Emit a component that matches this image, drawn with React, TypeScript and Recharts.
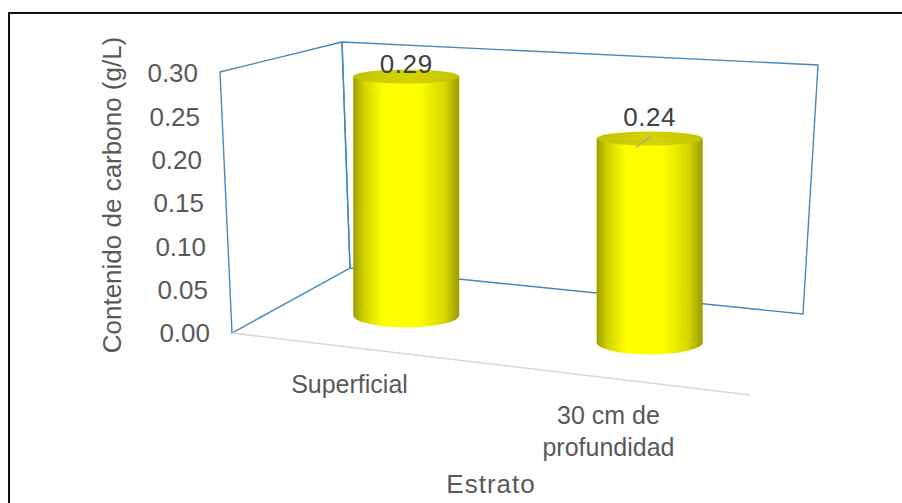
import React from 'react';
import { BarChart, Bar, XAxis, YAxis, Customized } from 'recharts';

const categories = ['Superficial', '30 cm de profundidad'];
const carbono = [0.29, 0.24];
const yTicks = [0, 0.05, 0.1, 0.15, 0.2, 0.25, 0.3];

const data = categories.map((estrato, i) => ({ estrato, carbono: carbono[i] }));

const W = 902;
const H = 503;
const PLOT_LEFT = 232;
const PLOT_RIGHT = 750;
const PLOT_TOP = 73;
const PLOT_BOTTOM = 333;
const FONT = '"Liberation Sans", Arial, sans-serif';
const TEXT = '#595959';
const WALL = '#4489bf';

// corners of the 3D box: floor (front/back) and top of the walls
const FL = { x: 232, y: 333 };
const FR = { x: 750, y: 395 };
const BL = { x: 350, y: 268 };
const BR = { x: 803, y: 314 };
const FLT = { x: 220, y: 72 };
const BLT = { x: 342, y: 42 };
const BRT = { x: 818, y: 65 };
const FRONT_RIGHT_H = 270;
const DEPTH = 0.48;

const lerp = (a: number, b: number, t: number) => a + (b - a) * t;
const lerpPt = (a: { x: number; y: number }, b: { x: number; y: number }, t: number) => ({
  x: lerp(a.x, b.x, t),
  y: lerp(a.y, b.y, t),
});

const floorAt = (u: number, z: number) => lerpPt(lerpPt(FL, FR, u), lerpPt(BL, BR, u), z);

// how much a vertical unit shrinks when moved back into the box
const depthScale = (u: number, z: number) => {
  const frontH = lerp(FL.y - FLT.y, FRONT_RIGHT_H, u);
  const backH = lerp(BL.y - BLT.y, BR.y - BRT.y, u);
  return lerp(frontH, backH, z) / (FL.y - FLT.y);
};

const LABEL_LIFT = [3, 13];

function Walls() {
  return (
    <g>
      <polygon
        points={`${FLT.x},${FLT.y} ${BLT.x},${BLT.y} ${BL.x},${BL.y} ${FL.x},${FL.y}`}
        fill="none"
        stroke={WALL}
        strokeWidth={1.4}
      />
      <polygon
        points={`${BLT.x},${BLT.y} ${BRT.x},${BRT.y} ${BR.x},${BR.y} ${BL.x},${BL.y}`}
        fill="none"
        stroke={WALL}
        strokeWidth={1.4}
      />
      <line x1={FL.x} y1={FL.y} x2={FR.x} y2={FR.y} stroke="#d9d9d9" strokeWidth={1.5} />
    </g>
  );
}

function Cylinder(props: any) {
  const { x, width, height, value, index } = props;
  const u = (x + width / 2 - PLOT_LEFT) / (PLOT_RIGHT - PLOT_LEFT);
  const base = floorAt(u, DEPTH);
  const h = height * depthScale(u, DEPTH);
  const rx = width / 2;
  const cx = base.x - 4;
  const bottom = base.y;
  const top = bottom - h;
  const ryTop = 7;
  const ryBottom = 12;
  const bodyId = `cyl-body-${index}`;
  const topId = `cyl-top-${index}`;
  const labelY = top - LABEL_LIFT[index];
  return (
    <g>
      <defs>
        <linearGradient id={bodyId} x1="0" y1="0" x2="1" y2="0">
          <stop offset="0" stopColor="#9c9c00" />
          <stop offset="0.1" stopColor="#d2d200" />
          <stop offset="0.28" stopColor="#ffff00" />
          <stop offset="0.62" stopColor="#ffff00" />
          <stop offset="0.86" stopColor="#d8d800" />
          <stop offset="1" stopColor="#9a9a00" />
        </linearGradient>
        <linearGradient id={topId} x1="0" y1="0" x2="1" y2="0">
          <stop offset="0" stopColor="#c2c200" />
          <stop offset="0.5" stopColor="#d4d400" />
          <stop offset="1" stopColor="#c4c400" />
        </linearGradient>
      </defs>
      <path
        d={`M${cx - rx},${top} L${cx - rx},${bottom} A${rx},${ryBottom} 0 0 0 ${cx + rx},${bottom} L${cx + rx},${top} Z`}
        fill={`url(#${bodyId})`}
      />
      <ellipse cx={cx} cy={top} rx={rx} ry={ryTop} fill={`url(#${topId})`} />
      {LABEL_LIFT[index] > 8 && (
        <line x1={cx - 14} y1={top + 9} x2={cx + 3} y2={top - 3} stroke="#a6a6a6" strokeWidth={1.3} />
      )}
      <text
        x={cx}
        y={labelY}
        textAnchor="middle"
        fontFamily={FONT}
        fontSize={26}
        letterSpacing={0.6}
        fill="#404040"
      >
        {Number(value).toFixed(2)}
      </text>
    </g>
  );
}

function YTick(props: any) {
  const { y, payload } = props;
  // the front edge of the side wall leans left as it rises
  const endX = PLOT_LEFT - 22 - ((PLOT_BOTTOM - y) * (FL.x - FLT.x)) / (FL.y - FLT.y);
  return (
    <text
      x={endX}
      y={y}
      dy="0.36em"
      textAnchor="end"
      fontFamily={FONT}
      fontSize={26}
      fill={TEXT}
    >
      {Number(payload.value).toFixed(2)}
    </text>
  );
}

function wrapWords(text: string, maxChars: number) {
  const lines: string[] = [];
  let cur = '';
  for (const w of text.split(' ')) {
    const next = cur ? `${cur} ${w}` : w;
    if (next.length > maxChars && cur) {
      lines.push(cur);
      cur = w;
    } else {
      cur = next;
    }
  }
  if (cur) lines.push(cur);
  return lines;
}

function XTick(props: any) {
  const { x, payload } = props;
  // sit the label under the sloping front edge of the floor
  const edgeY = FL.y + ((x - FL.x) * (FR.y - FL.y)) / (FR.x - FL.x);
  const lines = wrapWords(String(payload.value), 11);
  return (
    <text
      x={x - 12}
      y={edgeY + 35}
      textAnchor="middle"
      fontFamily={FONT}
      fontSize={25}
      fill={TEXT}
    >
      {lines.map((ln, i) => (
        <tspan key={i} x={x - 12} dy={i === 0 ? '0.36em' : 32}>
          {ln}
        </tspan>
      ))}
    </text>
  );
}

function YTitle(props: any) {
  const { viewBox } = props;
  const cx = viewBox.x + 112;
  const cy = viewBox.y + viewBox.height / 2 - 8;
  return (
    <text
      x={cx}
      y={cy}
      transform={`rotate(-90, ${cx}, ${cy})`}
      textAnchor="middle"
      dominantBaseline="central"
      fontFamily={FONT}
      fontSize={26}
      fill={TEXT}
    >
      Contenido de carbono (g/L)
    </text>
  );
}

function XTitle(props: any) {
  const { viewBox } = props;
  const cx = viewBox.x + viewBox.width / 2;
  const cy = viewBox.y + 151;
  return (
    <text
      x={cx}
      y={cy}
      textAnchor="middle"
      dominantBaseline="central"
      fontFamily={FONT}
      fontSize={26}
      letterSpacing={1}
      fill={TEXT}
    >
      Estrato
    </text>
  );
}

export default function App() {
  return (
    <div
      style={{
        position: 'absolute',
        left: 0,
        top: 0,
        width: W,
        height: H,
        overflow: 'hidden',
        background: '#fff',
      }}
    >
      <div
        style={{
          position: 'absolute',
          left: 8,
          top: 12,
          width: W,
          height: H,
          borderTop: '2px solid #111',
          borderLeft: '2px solid #111',
        }}
      />
      <div style={{ position: 'absolute', left: 0, top: 0 }}>
        <BarChart
          width={W}
          height={H}
          data={data}
          margin={{ top: PLOT_TOP, right: W - PLOT_RIGHT, bottom: 0, left: 0 }}
          barCategoryGap="29.5%"
        >
          <Customized component={Walls} />
          <XAxis
            dataKey="estrato"
            height={H - PLOT_BOTTOM}
            axisLine={false}
            tickLine={false}
            interval={0}
            tick={<XTick />}
            label={<XTitle />}
          />
          <YAxis
            width={PLOT_LEFT}
            domain={[0, 0.3]}
            ticks={yTicks}
            axisLine={false}
            tickLine={false}
            tick={<YTick />}
            label={<YTitle />}
          />
          <Bar dataKey="carbono" isAnimationActive={false} shape={<Cylinder />} />
        </BarChart>
      </div>
    </div>
  );
}
